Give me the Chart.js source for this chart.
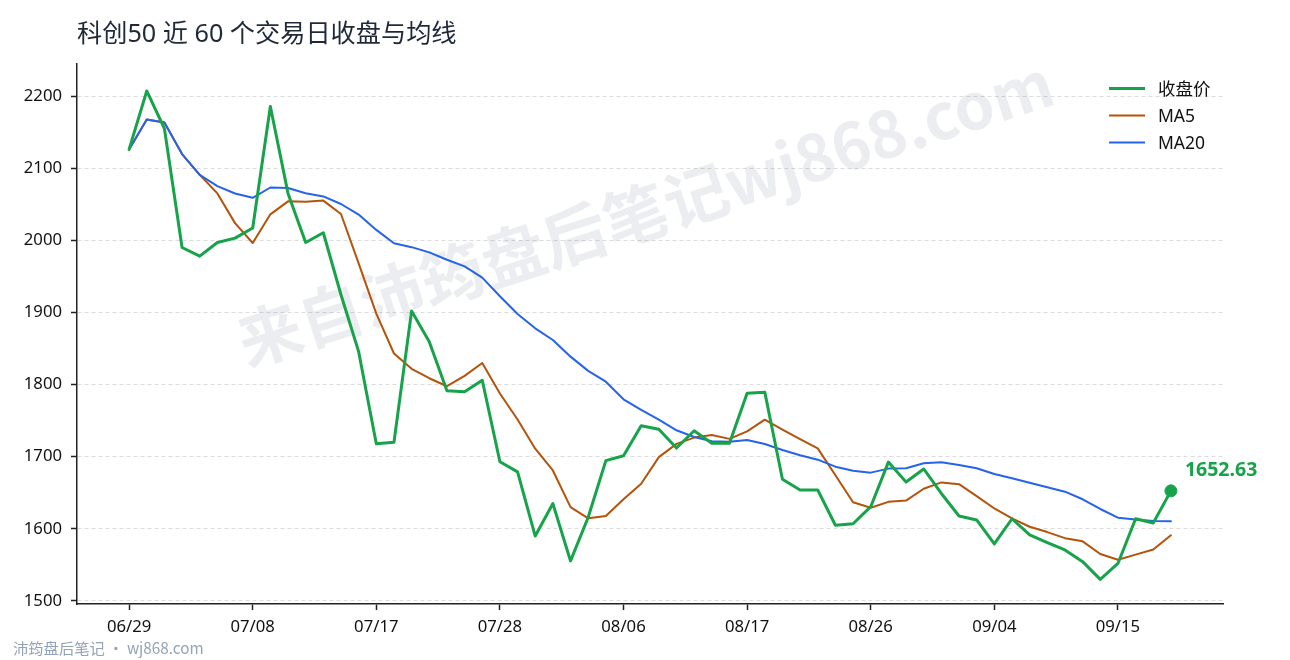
<!DOCTYPE html>
<html lang="zh-CN">
<head>
<meta charset="UTF-8">
<title>科创50 近 60 个交易日收盘与均线</title>
<script src="https://cdn.jsdelivr.net/npm/chart.js"></script>
<style>
    html, body { margin: 0; padding: 0; background: #fff; }
    #caixa { width: 1290px; height: 660px; }
</style>
</head>
<body>
<div id="caixa"><canvas id="grafico" width="1290" height="660"></canvas></div>
<script>
// datas dos 60 pregões
const dias = ['06/29','06/30','07/01','07/02','07/03','07/06','07/07','07/08','07/09','07/10',
    '07/13','07/14','07/15','07/16','07/17','07/20','07/21','07/22','07/23','07/24',
    '07/27','07/28','07/29','07/30','07/31','08/03','08/04','08/05','08/06','08/07',
    '08/10','08/11','08/12','08/13','08/14','08/17','08/18','08/19','08/20','08/21',
    '08/24','08/25','08/26','08/27','08/28','08/31','09/01','09/02','09/03','09/04',
    '09/07','09/08','09/09','09/10','09/11','09/14','09/15','09/16','09/17','09/18'];

// 收盘价
const fechamento = [2126, 2207, 2155, 1990, 1978, 1997, 2003, 2017, 2185.5, 2065,
    1997, 2010.5, 1924.5, 1845.6, 1718, 1720, 1902, 1859.5, 1791.5, 1790,
    1806, 1693, 1679, 1590, 1635, 1555.5, 1616, 1694.5, 1701.4, 1743,
    1738, 1712, 1736, 1718.6, 1718.6, 1788, 1789.5, 1668.7, 1653.9, 1653.9,
    1605, 1607, 1630.7, 1692.5, 1665, 1683, 1649, 1617.8, 1612.3, 1579,
    1614, 1591.5, 1580.8, 1570.7, 1554.5, 1530, 1552, 1614, 1608, 1652.63];

// MA5
const ma5 = [2126, 2167.5, 2163.3, 2119.5, 2090.8, 2065, 2023.8, 1996.2, 2036, 2054,
    2053.5, 2055, 2036.5, 1968.1, 1898.4, 1843.1, 1821.8, 1808.8, 1797.7, 1812.1,
    1829.9, 1787.6, 1751.5, 1711.1, 1680.9, 1630.1, 1614.6, 1617.7, 1640.9, 1662.5,
    1699.4, 1717.8, 1726.5, 1730, 1724.7, 1735.1, 1751.3, 1737.5, 1724.5, 1711.6,
    1674.2, 1636.9, 1629.3, 1637.4, 1639.2, 1655.6, 1664.4, 1661.9, 1645.4, 1628.2,
    1614.4, 1602.9, 1595.5, 1587.1, 1582.7, 1565.1, 1557.2, 1564.2, 1571.4, 1591];

// MA20
const ma20 = [2126, 2167.5, 2163.3, 2119.5, 2090.8, 2075.2, 2064.9, 2058.9, 2073.2, 2072.4,
    2065.3, 2060.8, 2050.3, 2035.7, 2014.4, 1995.9, 1990.5, 1983.2, 1973, 1963.8,
    1948.3, 1922.4, 1897.8, 1878, 1861.8, 1838.7, 1819, 1804, 1779.6, 1764.8,
    1751.3, 1736.6, 1727.3, 1721.3, 1720.8, 1723.2, 1717.6, 1709.3, 1702, 1695.9,
    1686.2, 1680.6, 1677.9, 1683.5, 1684, 1690.8, 1692.2, 1688.5, 1684, 1676,
    1670, 1664, 1657.6, 1651.5, 1641, 1627.5, 1615.5, 1613, 1611, 1610.5];

const ticksY = [1500, 1600, 1700, 1800, 1900, 2000, 2100, 2200];
const ticksX = [0, 7, 14, 21, 28, 35, 42, 49, 56];

const VERDE = '#16a34a';
const LARANJA = '#b45309';
const AZUL = '#2563eb';
const FONTE = "'Noto Sans', 'Noto Sans CJK SC', sans-serif";
const FONTE_CJK = "'Noto Sans CJK SC', 'Noto Sans', sans-serif";

function pontos(serie) {
    return serie.map(function (v, i) { return { x: i, y: v }; });
}

const ultimo = fechamento.length - 1;

// titulo, legenda, marca d'agua, rotulo final e rodape
const extras = {
    id: 'extras',
    beforeDatasetsDraw(chart) {
        const ctx = chart.ctx;
        ctx.save();
        ctx.translate(645, 212);
        ctx.rotate(-18 * Math.PI / 180);
        ctx.font = "bold 64px " + FONTE_CJK;
        ctx.fillStyle = 'rgba(100,116,139,0.13)';
        ctx.textAlign = 'center';
        ctx.textBaseline = 'middle';
        ctx.fillText('来自沛筠盘后笔记wj868.com', 0, 0);
        ctx.restore();
    },
    afterDraw(chart) {
        const ctx = chart.ctx;
        ctx.save();

        ctx.fillStyle = '#1f2937';
        ctx.font = "25.2px " + FONTE;
        ctx.textAlign = 'left';
        ctx.textBaseline = 'middle';
        ctx.fillText('科创50 近 60 个交易日收盘与均线', 77, 35);

        // legenda
        const itens = [
            { nome: '收盘价', cor: VERDE, w: 3, y: 88.5 },
            { nome: 'MA5', cor: LARANJA, w: 2, y: 115.5 },
            { nome: 'MA20', cor: AZUL, w: 2, y: 142.5 }
        ];
        ctx.font = "17.5px " + FONTE;
        itens.forEach(function (it) {
            ctx.strokeStyle = it.cor;
            ctx.lineWidth = it.w;
            ctx.beginPath();
            ctx.moveTo(1109, it.y);
            ctx.lineTo(1145, it.y);
            ctx.stroke();
            ctx.fillStyle = '#111';
            ctx.fillText(it.nome, 1158, it.y + 1.5);
        });

        // valor do ultimo fechamento
        const xs = chart.scales.x, ys = chart.scales.y;
        ctx.fillStyle = VERDE;
        ctx.font = "bold 19.5px " + FONTE;
        ctx.fillText(fechamento[ultimo].toFixed(2), xs.getPixelForValue(ultimo) + 14, ys.getPixelForValue(fechamento[ultimo]) - 20);

        // rodape
        ctx.fillStyle = '#94a3b8';
        ctx.font = "15.3px " + FONTE_CJK;
        ctx.fillText('沛筠盘后笔记 · wj868.com', 13, 648);
        ctx.restore();
    }
};

const config = {
    type: 'line',
    data: {
        datasets: [
            {
                label: '收盘价',
                data: pontos(fechamento),
                borderColor: VERDE,
                backgroundColor: VERDE,
                borderWidth: 3,
                pointRadius: function (c) { return c.dataIndex === ultimo ? 6 : 0; },
                pointBorderWidth: 1,
                pointBackgroundColor: VERDE,
                pointBorderColor: VERDE,
                order: 0
            },
            {
                label: 'MA20',
                data: pontos(ma20),
                borderColor: AZUL,
                borderWidth: 2,
                pointRadius: 0,
                order: 1
            },
            {
                label: 'MA5',
                data: pontos(ma5),
                borderColor: LARANJA,
                borderWidth: 2,
                pointRadius: 0,
                order: 2
            }
        ]
    },
    options: {
        responsive: false,
        animation: false,
        layout: { padding: { top: 64, right: 67, bottom: 0, left: 0 } },
        elements: { line: { tension: 0, borderJoinStyle: 'round', borderCapStyle: 'round' } },
        plugins: {
            legend: { display: false },
            tooltip: { enabled: false }
        },
        scales: {
            x: {
                type: 'linear',
                min: -2.95,
                max: 61.95,
                afterFit: function (s) { s.height = 56; },
                afterBuildTicks: function (s) { s.ticks = ticksX.map(function (v) { return { value: v }; }); },
                grid: { drawOnChartArea: false, drawTicks: true, tickLength: 6, tickColor: '#222', tickWidth: 1.5 },
                border: { display: true, color: '#222', width: 1.5 },
                ticks: {
                    autoSkip: false,
                    maxRotation: 0,
                    padding: 7,
                    color: '#111',
                    font: { family: FONTE, size: 16.7 },
                    callback: function (v) { return dias[v]; }
                }
            },
            y: {
                min: 1495.8,
                max: 2244.4,
                afterFit: function (s) { s.width = 77; },
                afterBuildTicks: function (s) { s.ticks = ticksY.map(function (v) { return { value: v }; }); },
                grid: { color: '#dcdcdc', lineWidth: 1, drawTicks: true, tickLength: 6, tickColor: '#222', tickWidth: 1.5 },
                border: { display: true, color: '#222', width: 1.5, dash: [4, 3] },
                ticks: {
                    padding: 9,
                    color: '#111',
                    font: { family: FONTE, size: 16.7 },
                    callback: function (v) { return String(v); }
                }
            }
        }
    },
    plugins: [extras]
};

let meuGrafico = new Chart(document.getElementById('grafico'), config);
</script>
</body>
</html>
